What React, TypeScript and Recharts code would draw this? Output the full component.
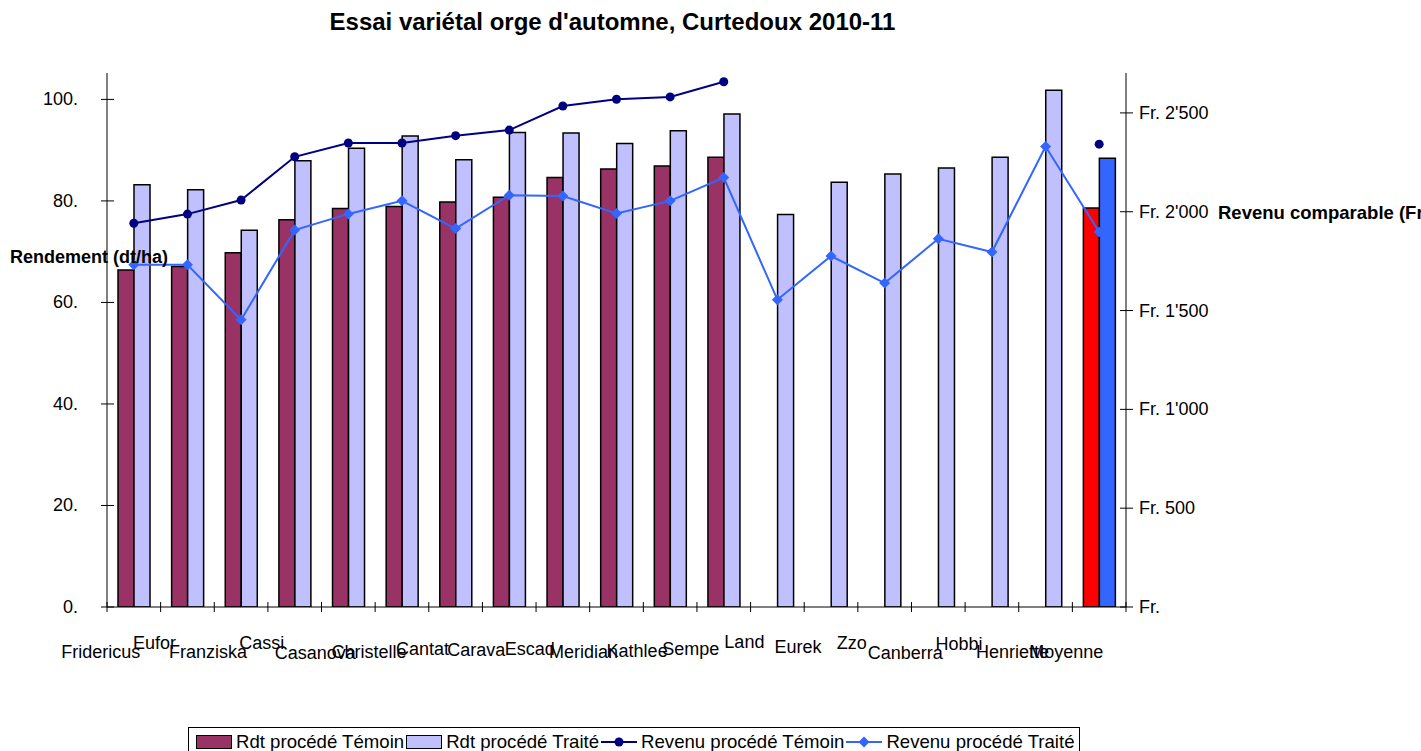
import { ComposedChart, Bar, Line, XAxis, YAxis, Legend, Cell } from 'recharts';

// Essai variétal orge d'automne, Curtedoux 2010-11
const varieties = [
  'Fridericus', 'Eufor', 'Franziska', 'Cassi', 'Casanova', 'Christelle', 'Cantat',
  'Carava', 'Escad', 'Meridian', 'Kathlee', 'Sempe', 'Land', 'Eurek', 'Zzo',
  'Canberra', 'Hobbi', 'Henriette', 'Moyenne',
];

// rendement (dt/ha)
const rdtTemoin = [
  66.4, 67.1, 69.8, 76.3, 78.5, 78.9, 79.8, 80.7, 84.6, 86.3, 86.9, 88.6,
  null, null, null, null, null, null, 78.6,
];
const rdtTraite = [
  83.2, 82.2, 74.2, 87.9, 90.4, 92.8, 88.1, 93.5, 93.4, 91.3, 93.8, 97.1,
  77.3, 83.7, 85.3, 86.5, 88.6, 101.8, 88.4,
];

// revenu comparable (Fr./ha)
const revenuTemoin = [
  1942, 1988, 2059, 2278, 2348, 2348, 2385, 2413, 2535, 2569, 2581, 2658,
  null, null, null, null, null, null, 2342,
];
const revenuTraite = [
  1732, 1732, 1453, 1907, 1989, 2055, 1915, 2084, 2080, 1991, 2055, 2173,
  1555, 1776, 1639, 1863, 1796, 2330, 1897,
];

const rdtTicks = [0, 20, 40, 60, 80, 100];
const revenuTicks = [0, 500, 1000, 1500, 2000, 2500];

const data = varieties.map((v, i) => ({
  variete: v,
  rdtTemoin: rdtTemoin[i],
  rdtTraite: rdtTraite[i],
  revenuTemoin: revenuTemoin[i],
  revenuTraite: revenuTraite[i],
}));

const FONT = '"Liberation Sans", Arial, sans-serif';
const MAROON = '#993366';
const LAVENDER = '#C0C0FF';
const NAVY = '#000080';
const BLUE = '#3366FF';

const BAND = 1019 / varieties.length;

// the category labels sit at uneven heights in the original
const labelDrop: Record<string, number> = {
  Fridericus: 45, Eufor: 36, Franziska: 45, Cassi: 36, Casanova: 46, Christelle: 45,
  Cantat: 42, Carava: 43, Escad: 42, Meridian: 45, Kathlee: 44, Sempe: 42,
  Land: 35, Eurek: 40, Zzo: 36, Canberra: 46, Hobbi: 37, Henriette: 45, Moyenne: 45,
};

function XTick(props: any) {
  const { x, y, payload, index } = props;
  const left = x - BAND / 2;
  return (
    <g>
      <line x1={left} x2={left} y1={y - 5} y2={y + 5} stroke="#000" />
      {index === varieties.length - 1 && (
        <line x1={x + BAND / 2} x2={x + BAND / 2} y1={y - 5} y2={y + 5} stroke="#000" />
      )}
      <text
        x={x - 33}
        y={y + (labelDrop[payload.value] ?? 45)}
        textAnchor="middle"
        dominantBaseline="central"
        fontSize={18}
        fontFamily={FONT}
        fill="#000"
      >
        {payload.value}
      </text>
    </g>
  );
}

function LeftTick(props: any) {
  const { x, y, payload } = props;
  return (
    <g>
      <line x1={x - 6} x2={x + 7} y1={y} y2={y} stroke="#000" />
      <text x={x - 29} y={y} textAnchor="end" dominantBaseline="central" fontSize={18} fontFamily={FONT} fill="#000">
        {payload.value + '.'}
      </text>
    </g>
  );
}

const fr = (v: number) => (v === 0 ? 'Fr.' : 'Fr. ' + String(v).replace(/\B(?=(\d{3})+(?!\d))/g, "'"));

function RightTick(props: any) {
  const { x, y, payload } = props;
  return (
    <g>
      <line x1={x - 6} x2={x + 7} y1={y} y2={y} stroke="#000" />
      <text x={x + 13} y={y} textAnchor="start" dominantBaseline="central" fontSize={18} fontFamily={FONT} fill="#000">
        {fr(payload.value)}
      </text>
    </g>
  );
}

function Diamond(props: any) {
  const { cx, cy, fill } = props;
  if (cx == null || cy == null) return null;
  const r = 5.5;
  return <polygon points={`${cx},${cy - r} ${cx + r},${cy} ${cx},${cy + r} ${cx - r},${cy}`} fill={fill} />;
}

function Swatch({ color }: { color: string }) {
  return <span style={{ display: 'inline-block', width: 34, height: 12, background: color, border: '1px solid #000' }} />;
}

function LineMark({ color, diamond }: { color: string; diamond?: boolean }) {
  return (
    <svg width={36} height={14} style={{ display: 'block' }}>
      <line x1={0} x2={36} y1={7} y2={7} stroke={color} strokeWidth={2} />
      {diamond ? (
        <polygon points="18,1.5 23.5,7 18,12.5 12.5,7" fill={color} />
      ) : (
        <circle cx={18} cy={7} r={4.5} fill={color} />
      )}
    </svg>
  );
}

function LegendBox() {
  const item = { display: 'flex', alignItems: 'center' } as const;
  const txt = { marginLeft: 4, marginRight: 2 };
  return (
    <div
      style={{
        display: 'flex',
        alignItems: 'center',
        border: '1px solid #000',
        height: 30,
        paddingLeft: 7,
        paddingRight: 2,
        boxSizing: 'border-box',
        fontFamily: FONT,
        fontSize: 18.6,
        whiteSpace: 'nowrap',
        background: '#fff',
      }}
    >
      <span style={item}><Swatch color={MAROON} /><span style={txt}>Rdt procédé Témoin</span></span>
      <span style={item}><Swatch color={LAVENDER} /><span style={txt}>Rdt procédé Traité</span></span>
      <span style={item}><LineMark color={NAVY} /><span style={txt}>Revenu procédé Témoin</span></span>
      <span style={item}><LineMark color={BLUE} diamond /><span style={txt}>Revenu procédé Traité</span></span>
    </div>
  );
}

export default function App() {
  const last = varieties.length - 1;
  return (
    <div style={{ position: 'absolute', left: 0, top: 0, width: 1421, height: 751, overflow: 'hidden', background: '#fff', fontFamily: FONT }}>
      <ComposedChart
        width={1421}
        height={751}
        data={data}
        margin={{ top: 73, right: 195, bottom: 84, left: 7 }}
        barGap={0}
        barSize={16}
      >
        <XAxis
          dataKey="variete"
          interval={0}
          height={60}
          tickSize={0}
          tickMargin={0}
          tickLine={false}
          axisLine={{ stroke: '#000' }}
          tick={<XTick />}
        />
        <YAxis
          yAxisId="rdt"
          width={100}
          domain={[0, 105.2]}
          ticks={rdtTicks}
          allowDataOverflow
          tickSize={0}
          tickMargin={0}
          tickLine={false}
          axisLine={{ stroke: '#000' }}
          tick={<LeftTick />}
        />
        <YAxis
          yAxisId="revenu"
          orientation="right"
          width={100}
          domain={[0, 2702]}
          ticks={revenuTicks}
          allowDataOverflow
          tickSize={0}
          tickMargin={0}
          tickLine={false}
          axisLine={{ stroke: '#000' }}
          tick={<RightTick />}
        />
        <Bar yAxisId="rdt" dataKey="rdtTemoin" name="Rdt procédé Témoin" fill={MAROON} stroke="#000" strokeWidth={1.5} isAnimationActive={false}>
          {data.map((_, i) => (
            <Cell key={i} fill={i === last ? '#FF0000' : MAROON} />
          ))}
        </Bar>
        <Bar yAxisId="rdt" dataKey="rdtTraite" name="Rdt procédé Traité" fill={LAVENDER} stroke="#000" strokeWidth={1.5} isAnimationActive={false}>
          {data.map((_, i) => (
            <Cell key={i} fill={i === last ? BLUE : LAVENDER} />
          ))}
        </Bar>
        <Line
          yAxisId="revenu"
          dataKey="revenuTemoin"
          name="Revenu procédé Témoin"
          stroke={NAVY}
          strokeWidth={2}
          dot={{ r: 4.5, fill: NAVY, stroke: NAVY, strokeWidth: 0 }}
          activeDot={false}
          isAnimationActive={false}
        />
        <Line
          yAxisId="revenu"
          dataKey="revenuTraite"
          name="Revenu procédé Traité"
          stroke={BLUE}
          strokeWidth={2}
          dot={<Diamond fill={BLUE} />}
          activeDot={false}
          isAnimationActive={false}
        />
        <Legend
          layout="horizontal"
          verticalAlign="middle"
          align="center"
          content={<LegendBox />}
          wrapperStyle={{ position: 'absolute', left: 188, top: 727, width: 'auto', height: 'auto' }}
        />
      </ComposedChart>

      <div style={{ position: 'absolute', left: 103, top: 9, width: 1019, textAlign: 'center', fontWeight: 'bold', fontSize: 24, lineHeight: '26px', whiteSpace: 'nowrap' }}>
        Essai variétal orge d'automne, Curtedoux 2010-11
      </div>
      <div style={{ position: 'absolute', left: 10, top: 247, fontWeight: 'bold', fontSize: 18, lineHeight: '20px', whiteSpace: 'nowrap' }}>
        Rendement (dt/ha)
      </div>
      <div style={{ position: 'absolute', left: 1218, top: 203, fontWeight: 'bold', fontSize: 18.5, lineHeight: '20px', whiteSpace: 'nowrap' }}>
        Revenu comparable (Fr./ha)
      </div>
    </div>
  );
}
